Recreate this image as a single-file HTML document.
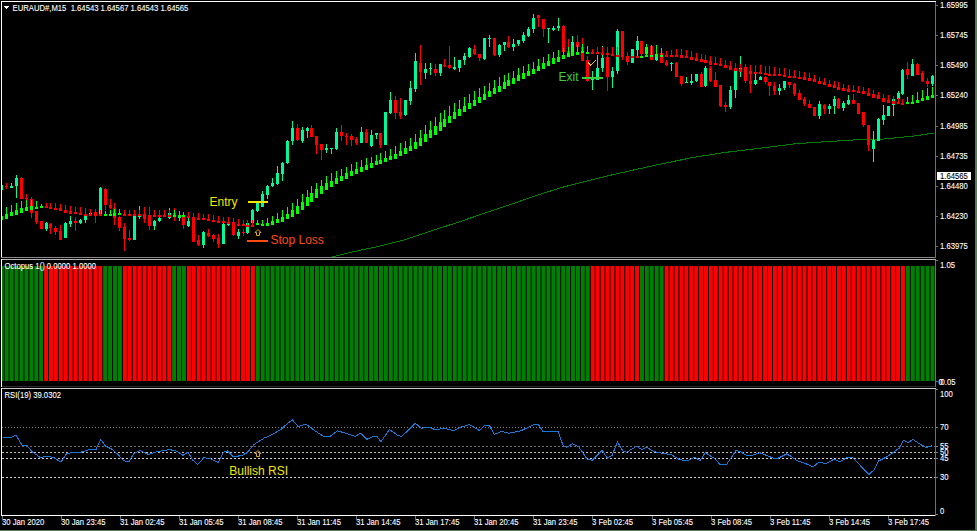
<!DOCTYPE html>
<html><head><meta charset="utf-8"><style>
html,body{margin:0;padding:0;background:#000;width:977px;height:531px;overflow:hidden;position:relative}
</style></head><body>
<svg width="977" height="531" viewBox="0 0 977 531" style="position:absolute;left:0;top:0" shape-rendering="crispEdges">
<rect x="0" y="0" width="977" height="531" fill="#000"/>
<defs><clipPath id="cm"><rect x="2" y="2" width="933" height="255"/></clipPath><clipPath id="cp2"><rect x="2" y="260" width="933" height="126"/></clipPath><clipPath id="cr"><rect x="2" y="389" width="933" height="126"/></clipPath></defs>
<g clip-path="url(#cm)"><polyline points="331.5,257.1 352.8,251.8 379.0,246.3 405.2,239.7 431.4,230.9 457.6,222.4 483.8,213.5 510.0,204.7 536.2,195.5 562.4,187.3 591.9,179.8 614.8,174.2 630.0,170.8 661.7,163.8 693.5,157.4 725.2,152.4 763.2,147.9 795.0,143.8 826.7,141.6 858.4,139.7 883.8,139.0 915.5,135.9 931.4,133.3 934.0,133.0" fill="none" stroke="#008000" stroke-width="1"/>
<rect x="1" y="183" width="1" height="9" fill="#00fa9a"/>
<rect x="0" y="185" width="3" height="5" fill="#00fa9a"/>
<rect x="6" y="183" width="1" height="6" fill="#ff0000"/>
<rect x="5" y="186" width="3" height="1" fill="#ff0000"/>
<rect x="11" y="183" width="1" height="5" fill="#00fa9a"/>
<rect x="10" y="186" width="3" height="2" fill="#00fa9a"/>
<rect x="16" y="175" width="1" height="23" fill="#00fa9a"/>
<rect x="15" y="178" width="3" height="8" fill="#00fa9a"/>
<rect x="21" y="177" width="1" height="22" fill="#ff0000"/>
<rect x="20" y="178" width="3" height="21" fill="#ff0000"/>
<rect x="26" y="194" width="1" height="8" fill="#ff0000"/>
<rect x="25" y="198" width="3" height="1" fill="#ff0000"/>
<rect x="31" y="197" width="1" height="21" fill="#ff0000"/>
<rect x="30" y="199" width="3" height="14" fill="#ff0000"/>
<rect x="36" y="211" width="1" height="13" fill="#ff0000"/>
<rect x="35" y="211" width="3" height="11" fill="#ff0000"/>
<rect x="41" y="221" width="1" height="8" fill="#ff0000"/>
<rect x="40" y="221" width="3" height="8" fill="#ff0000"/>
<rect x="46" y="222" width="1" height="9" fill="#00fa9a"/>
<rect x="45" y="223" width="3" height="6" fill="#00fa9a"/>
<rect x="50" y="223" width="1" height="11" fill="#ff0000"/>
<rect x="49" y="224" width="3" height="4" fill="#ff0000"/>
<rect x="55" y="226" width="1" height="9" fill="#ff0000"/>
<rect x="54" y="228" width="3" height="4" fill="#ff0000"/>
<rect x="60" y="225" width="1" height="15" fill="#ff0000"/>
<rect x="59" y="231" width="3" height="9" fill="#ff0000"/>
<rect x="65" y="222" width="1" height="16" fill="#00fa9a"/>
<rect x="64" y="223" width="3" height="15" fill="#00fa9a"/>
<rect x="70" y="216" width="1" height="11" fill="#00fa9a"/>
<rect x="69" y="221" width="3" height="3" fill="#00fa9a"/>
<rect x="75" y="217" width="1" height="14" fill="#ff0000"/>
<rect x="74" y="221" width="3" height="2" fill="#ff0000"/>
<rect x="80" y="219" width="1" height="5" fill="#00fa9a"/>
<rect x="79" y="220" width="3" height="3" fill="#00fa9a"/>
<rect x="85" y="214" width="1" height="9" fill="#00fa9a"/>
<rect x="84" y="216" width="3" height="4" fill="#00fa9a"/>
<rect x="90" y="212" width="1" height="4" fill="#00fa9a"/>
<rect x="89" y="213" width="3" height="2" fill="#00fa9a"/>
<rect x="95" y="209" width="1" height="14" fill="#ff0000"/>
<rect x="94" y="212" width="3" height="4" fill="#ff0000"/>
<rect x="100" y="187" width="1" height="28" fill="#00fa9a"/>
<rect x="99" y="188" width="3" height="27" fill="#00fa9a"/>
<rect x="105" y="188" width="1" height="22" fill="#ff0000"/>
<rect x="104" y="189" width="3" height="16" fill="#ff0000"/>
<rect x="110" y="199" width="1" height="10" fill="#ff0000"/>
<rect x="109" y="205" width="3" height="3" fill="#ff0000"/>
<rect x="114" y="203" width="1" height="22" fill="#ff0000"/>
<rect x="113" y="208" width="3" height="10" fill="#ff0000"/>
<rect x="119" y="216" width="1" height="15" fill="#ff0000"/>
<rect x="118" y="217" width="3" height="11" fill="#ff0000"/>
<rect x="124" y="223" width="1" height="28" fill="#ff0000"/>
<rect x="123" y="227" width="3" height="12" fill="#ff0000"/>
<rect x="129" y="230" width="1" height="11" fill="#ff0000"/>
<rect x="128" y="238" width="3" height="2" fill="#ff0000"/>
<rect x="134" y="214" width="1" height="26" fill="#00fa9a"/>
<rect x="133" y="215" width="3" height="25" fill="#00fa9a"/>
<rect x="139" y="206" width="1" height="13" fill="#00fa9a"/>
<rect x="138" y="214" width="3" height="3" fill="#00fa9a"/>
<rect x="144" y="207" width="1" height="16" fill="#ff0000"/>
<rect x="143" y="214" width="3" height="5" fill="#ff0000"/>
<rect x="149" y="210" width="1" height="20" fill="#ff0000"/>
<rect x="148" y="216" width="3" height="10" fill="#ff0000"/>
<rect x="154" y="220" width="1" height="10" fill="#00fa9a"/>
<rect x="153" y="221" width="3" height="5" fill="#00fa9a"/>
<rect x="159" y="215" width="1" height="7" fill="#00fa9a"/>
<rect x="158" y="218" width="3" height="3" fill="#00fa9a"/>
<rect x="164" y="210" width="1" height="7" fill="#ff0000"/>
<rect x="163" y="216" width="3" height="1" fill="#ff0000"/>
<rect x="169" y="208" width="1" height="11" fill="#00fa9a"/>
<rect x="168" y="213" width="3" height="5" fill="#00fa9a"/>
<rect x="174" y="208" width="1" height="13" fill="#ff0000"/>
<rect x="173" y="213" width="3" height="3" fill="#ff0000"/>
<rect x="179" y="213" width="1" height="8" fill="#00fa9a"/>
<rect x="178" y="215" width="3" height="3" fill="#00fa9a"/>
<rect x="183" y="215" width="1" height="14" fill="#ff0000"/>
<rect x="182" y="216" width="3" height="9" fill="#ff0000"/>
<rect x="188" y="218" width="1" height="9" fill="#00fa9a"/>
<rect x="187" y="221" width="3" height="5" fill="#00fa9a"/>
<rect x="193" y="214" width="1" height="28" fill="#ff0000"/>
<rect x="192" y="217" width="3" height="25" fill="#ff0000"/>
<rect x="198" y="235" width="1" height="11" fill="#ff0000"/>
<rect x="197" y="240" width="3" height="5" fill="#ff0000"/>
<rect x="203" y="231" width="1" height="17" fill="#00fa9a"/>
<rect x="202" y="232" width="3" height="13" fill="#00fa9a"/>
<rect x="208" y="229" width="1" height="8" fill="#ff0000"/>
<rect x="207" y="233" width="3" height="3" fill="#ff0000"/>
<rect x="213" y="234" width="1" height="8" fill="#ff0000"/>
<rect x="212" y="235" width="3" height="4" fill="#ff0000"/>
<rect x="218" y="234" width="1" height="14" fill="#ff0000"/>
<rect x="217" y="238" width="3" height="6" fill="#ff0000"/>
<rect x="223" y="223" width="1" height="21" fill="#00fa9a"/>
<rect x="222" y="224" width="3" height="20" fill="#00fa9a"/>
<rect x="228" y="218" width="1" height="8" fill="#00fa9a"/>
<rect x="227" y="222" width="3" height="3" fill="#00fa9a"/>
<rect x="233" y="218" width="1" height="18" fill="#ff0000"/>
<rect x="232" y="222" width="3" height="13" fill="#ff0000"/>
<rect x="238" y="229" width="1" height="10" fill="#00fa9a"/>
<rect x="237" y="232" width="3" height="4" fill="#00fa9a"/>
<rect x="243" y="229" width="1" height="7" fill="#ff0000"/>
<rect x="242" y="232" width="3" height="1" fill="#ff0000"/>
<rect x="247" y="222" width="1" height="12" fill="#00fa9a"/>
<rect x="246" y="223" width="3" height="10" fill="#00fa9a"/>
<rect x="252" y="209" width="1" height="14" fill="#00fa9a"/>
<rect x="251" y="210" width="3" height="13" fill="#00fa9a"/>
<rect x="257" y="202" width="1" height="10" fill="#00fa9a"/>
<rect x="256" y="203" width="3" height="8" fill="#00fa9a"/>
<rect x="262" y="191" width="1" height="16" fill="#00fa9a"/>
<rect x="261" y="194" width="3" height="13" fill="#00fa9a"/>
<rect x="267" y="185" width="1" height="14" fill="#00fa9a"/>
<rect x="266" y="186" width="3" height="9" fill="#00fa9a"/>
<rect x="272" y="178" width="1" height="9" fill="#00fa9a"/>
<rect x="271" y="183" width="3" height="3" fill="#00fa9a"/>
<rect x="277" y="166" width="1" height="19" fill="#00fa9a"/>
<rect x="276" y="173" width="3" height="11" fill="#00fa9a"/>
<rect x="282" y="162" width="1" height="19" fill="#00fa9a"/>
<rect x="281" y="163" width="3" height="11" fill="#00fa9a"/>
<rect x="287" y="140" width="1" height="24" fill="#00fa9a"/>
<rect x="286" y="141" width="3" height="22" fill="#00fa9a"/>
<rect x="292" y="121" width="1" height="24" fill="#00fa9a"/>
<rect x="291" y="128" width="3" height="13" fill="#00fa9a"/>
<rect x="297" y="124" width="1" height="17" fill="#ff0000"/>
<rect x="296" y="128" width="3" height="12" fill="#ff0000"/>
<rect x="302" y="127" width="1" height="16" fill="#00fa9a"/>
<rect x="301" y="130" width="3" height="11" fill="#00fa9a"/>
<rect x="307" y="127" width="1" height="11" fill="#00fa9a"/>
<rect x="306" y="128" width="3" height="3" fill="#00fa9a"/>
<rect x="311" y="125" width="1" height="12" fill="#ff0000"/>
<rect x="310" y="128" width="3" height="9" fill="#ff0000"/>
<rect x="316" y="136" width="1" height="18" fill="#ff0000"/>
<rect x="315" y="136" width="3" height="9" fill="#ff0000"/>
<rect x="321" y="144" width="1" height="16" fill="#ff0000"/>
<rect x="320" y="144" width="3" height="6" fill="#ff0000"/>
<rect x="326" y="144" width="1" height="9" fill="#00fa9a"/>
<rect x="325" y="148" width="3" height="2" fill="#00fa9a"/>
<rect x="331" y="148" width="1" height="6" fill="#00fa9a"/>
<rect x="330" y="148" width="3" height="1" fill="#00fa9a"/>
<rect x="336" y="128" width="1" height="22" fill="#00fa9a"/>
<rect x="335" y="132" width="3" height="17" fill="#00fa9a"/>
<rect x="341" y="125" width="1" height="16" fill="#ff0000"/>
<rect x="340" y="132" width="3" height="4" fill="#ff0000"/>
<rect x="346" y="133" width="1" height="12" fill="#ff0000"/>
<rect x="345" y="136" width="3" height="1" fill="#ff0000"/>
<rect x="351" y="134" width="1" height="12" fill="#ff0000"/>
<rect x="350" y="136" width="3" height="4" fill="#ff0000"/>
<rect x="356" y="137" width="1" height="8" fill="#ff0000"/>
<rect x="355" y="139" width="3" height="4" fill="#ff0000"/>
<rect x="361" y="127" width="1" height="16" fill="#00fa9a"/>
<rect x="360" y="132" width="3" height="11" fill="#00fa9a"/>
<rect x="366" y="129" width="1" height="14" fill="#ff0000"/>
<rect x="365" y="132" width="3" height="11" fill="#ff0000"/>
<rect x="371" y="130" width="1" height="17" fill="#00fa9a"/>
<rect x="370" y="135" width="3" height="11" fill="#00fa9a"/>
<rect x="376" y="133" width="1" height="6" fill="#00fa9a"/>
<rect x="375" y="133" width="3" height="2" fill="#00fa9a"/>
<rect x="380" y="133" width="1" height="15" fill="#ff0000"/>
<rect x="379" y="133" width="3" height="12" fill="#ff0000"/>
<rect x="385" y="112" width="1" height="33" fill="#00fa9a"/>
<rect x="384" y="112" width="3" height="33" fill="#00fa9a"/>
<rect x="390" y="92" width="1" height="22" fill="#00fa9a"/>
<rect x="389" y="100" width="3" height="13" fill="#00fa9a"/>
<rect x="395" y="96" width="1" height="23" fill="#ff0000"/>
<rect x="394" y="100" width="3" height="13" fill="#ff0000"/>
<rect x="400" y="98" width="1" height="21" fill="#ff0000"/>
<rect x="399" y="112" width="3" height="4" fill="#ff0000"/>
<rect x="405" y="100" width="1" height="16" fill="#00fa9a"/>
<rect x="404" y="100" width="3" height="15" fill="#00fa9a"/>
<rect x="410" y="81" width="1" height="24" fill="#00fa9a"/>
<rect x="409" y="88" width="3" height="13" fill="#00fa9a"/>
<rect x="415" y="53" width="1" height="39" fill="#00fa9a"/>
<rect x="414" y="61" width="3" height="28" fill="#00fa9a"/>
<rect x="420" y="45" width="1" height="40" fill="#ff0000"/>
<rect x="419" y="63" width="3" height="9" fill="#ff0000"/>
<rect x="425" y="63" width="1" height="16" fill="#00fa9a"/>
<rect x="424" y="69" width="3" height="4" fill="#00fa9a"/>
<rect x="430" y="63" width="1" height="12" fill="#00fa9a"/>
<rect x="429" y="68" width="3" height="1" fill="#00fa9a"/>
<rect x="435" y="64" width="1" height="12" fill="#ff0000"/>
<rect x="434" y="69" width="3" height="4" fill="#ff0000"/>
<rect x="440" y="64" width="1" height="12" fill="#00fa9a"/>
<rect x="439" y="64" width="3" height="9" fill="#00fa9a"/>
<rect x="444" y="59" width="1" height="8" fill="#ff0000"/>
<rect x="443" y="65" width="3" height="1" fill="#ff0000"/>
<rect x="449" y="46" width="1" height="23" fill="#ff0000"/>
<rect x="448" y="65" width="3" height="3" fill="#ff0000"/>
<rect x="454" y="57" width="1" height="13" fill="#00fa9a"/>
<rect x="453" y="67" width="3" height="2" fill="#00fa9a"/>
<rect x="459" y="60" width="1" height="12" fill="#00fa9a"/>
<rect x="458" y="60" width="3" height="8" fill="#00fa9a"/>
<rect x="464" y="53" width="1" height="12" fill="#00fa9a"/>
<rect x="463" y="56" width="3" height="4" fill="#00fa9a"/>
<rect x="469" y="47" width="1" height="11" fill="#00fa9a"/>
<rect x="468" y="48" width="3" height="9" fill="#00fa9a"/>
<rect x="474" y="45" width="1" height="10" fill="#ff0000"/>
<rect x="473" y="49" width="3" height="5" fill="#ff0000"/>
<rect x="479" y="54" width="1" height="7" fill="#ff0000"/>
<rect x="478" y="54" width="3" height="4" fill="#ff0000"/>
<rect x="484" y="38" width="1" height="22" fill="#00fa9a"/>
<rect x="483" y="38" width="3" height="21" fill="#00fa9a"/>
<rect x="489" y="35" width="1" height="12" fill="#00fa9a"/>
<rect x="488" y="38" width="3" height="1" fill="#00fa9a"/>
<rect x="494" y="38" width="1" height="18" fill="#ff0000"/>
<rect x="493" y="38" width="3" height="17" fill="#ff0000"/>
<rect x="499" y="44" width="1" height="13" fill="#00fa9a"/>
<rect x="498" y="45" width="3" height="10" fill="#00fa9a"/>
<rect x="504" y="42" width="1" height="9" fill="#00fa9a"/>
<rect x="503" y="42" width="3" height="3" fill="#00fa9a"/>
<rect x="508" y="36" width="1" height="12" fill="#ff0000"/>
<rect x="507" y="42" width="3" height="5" fill="#ff0000"/>
<rect x="513" y="39" width="1" height="12" fill="#00fa9a"/>
<rect x="512" y="44" width="3" height="3" fill="#00fa9a"/>
<rect x="518" y="40" width="1" height="6" fill="#00fa9a"/>
<rect x="517" y="40" width="3" height="4" fill="#00fa9a"/>
<rect x="523" y="32" width="1" height="11" fill="#00fa9a"/>
<rect x="522" y="35" width="3" height="6" fill="#00fa9a"/>
<rect x="528" y="27" width="1" height="10" fill="#00fa9a"/>
<rect x="527" y="29" width="3" height="7" fill="#00fa9a"/>
<rect x="533" y="14" width="1" height="19" fill="#00fa9a"/>
<rect x="532" y="18" width="3" height="11" fill="#00fa9a"/>
<rect x="538" y="15" width="1" height="12" fill="#ff0000"/>
<rect x="537" y="15" width="3" height="3" fill="#ff0000"/>
<rect x="543" y="19" width="1" height="18" fill="#ff0000"/>
<rect x="542" y="19" width="3" height="10" fill="#ff0000"/>
<rect x="548" y="28" width="1" height="15" fill="#00fa9a"/>
<rect x="547" y="28" width="3" height="1" fill="#00fa9a"/>
<rect x="553" y="26" width="1" height="5" fill="#00fa9a"/>
<rect x="552" y="28" width="3" height="2" fill="#00fa9a"/>
<rect x="558" y="18" width="1" height="13" fill="#00fa9a"/>
<rect x="557" y="26" width="3" height="2" fill="#00fa9a"/>
<rect x="563" y="25" width="1" height="27" fill="#ff0000"/>
<rect x="562" y="26" width="3" height="26" fill="#ff0000"/>
<rect x="568" y="39" width="1" height="15" fill="#ff0000"/>
<rect x="567" y="51" width="3" height="2" fill="#ff0000"/>
<rect x="572" y="36" width="1" height="16" fill="#00fa9a"/>
<rect x="571" y="42" width="3" height="10" fill="#00fa9a"/>
<rect x="577" y="35" width="1" height="13" fill="#ff0000"/>
<rect x="576" y="42" width="3" height="5" fill="#ff0000"/>
<rect x="582" y="38" width="1" height="23" fill="#ff0000"/>
<rect x="581" y="47" width="3" height="14" fill="#ff0000"/>
<rect x="587" y="56" width="1" height="26" fill="#ff0000"/>
<rect x="586" y="60" width="3" height="21" fill="#ff0000"/>
<rect x="592" y="71" width="1" height="19" fill="#00fa9a"/>
<rect x="591" y="78" width="3" height="2" fill="#00fa9a"/>
<rect x="597" y="55" width="1" height="25" fill="#00fa9a"/>
<rect x="596" y="68" width="3" height="12" fill="#00fa9a"/>
<rect x="602" y="46" width="1" height="26" fill="#00fa9a"/>
<rect x="601" y="58" width="3" height="10" fill="#00fa9a"/>
<rect x="607" y="47" width="1" height="44" fill="#ff0000"/>
<rect x="606" y="57" width="3" height="20" fill="#ff0000"/>
<rect x="612" y="67" width="1" height="21" fill="#00fa9a"/>
<rect x="611" y="71" width="3" height="6" fill="#00fa9a"/>
<rect x="617" y="29" width="1" height="45" fill="#00fa9a"/>
<rect x="616" y="31" width="3" height="40" fill="#00fa9a"/>
<rect x="622" y="31" width="1" height="29" fill="#ff0000"/>
<rect x="621" y="31" width="3" height="26" fill="#ff0000"/>
<rect x="627" y="52" width="1" height="13" fill="#ff0000"/>
<rect x="626" y="57" width="3" height="5" fill="#ff0000"/>
<rect x="632" y="49" width="1" height="14" fill="#00fa9a"/>
<rect x="631" y="49" width="3" height="14" fill="#00fa9a"/>
<rect x="637" y="36" width="1" height="21" fill="#00fa9a"/>
<rect x="636" y="41" width="3" height="9" fill="#00fa9a"/>
<rect x="641" y="41" width="1" height="16" fill="#ff0000"/>
<rect x="640" y="41" width="3" height="13" fill="#ff0000"/>
<rect x="646" y="44" width="1" height="10" fill="#00fa9a"/>
<rect x="645" y="47" width="3" height="7" fill="#00fa9a"/>
<rect x="651" y="45" width="1" height="15" fill="#ff0000"/>
<rect x="650" y="46" width="3" height="14" fill="#ff0000"/>
<rect x="656" y="45" width="1" height="16" fill="#00fa9a"/>
<rect x="655" y="54" width="3" height="6" fill="#00fa9a"/>
<rect x="661" y="48" width="1" height="15" fill="#ff0000"/>
<rect x="660" y="53" width="3" height="10" fill="#ff0000"/>
<rect x="666" y="60" width="1" height="6" fill="#ff0000"/>
<rect x="665" y="62" width="3" height="3" fill="#ff0000"/>
<rect x="671" y="62" width="1" height="9" fill="#00fa9a"/>
<rect x="670" y="63" width="3" height="1" fill="#00fa9a"/>
<rect x="676" y="62" width="1" height="15" fill="#ff0000"/>
<rect x="675" y="63" width="3" height="14" fill="#ff0000"/>
<rect x="681" y="76" width="1" height="10" fill="#ff0000"/>
<rect x="680" y="76" width="3" height="8" fill="#ff0000"/>
<rect x="686" y="77" width="1" height="6" fill="#00fa9a"/>
<rect x="685" y="82" width="3" height="1" fill="#00fa9a"/>
<rect x="691" y="74" width="1" height="11" fill="#00fa9a"/>
<rect x="690" y="81" width="3" height="2" fill="#00fa9a"/>
<rect x="696" y="74" width="1" height="8" fill="#00fa9a"/>
<rect x="695" y="74" width="3" height="7" fill="#00fa9a"/>
<rect x="701" y="72" width="1" height="15" fill="#ff0000"/>
<rect x="700" y="74" width="3" height="13" fill="#ff0000"/>
<rect x="705" y="66" width="1" height="21" fill="#00fa9a"/>
<rect x="704" y="68" width="3" height="18" fill="#00fa9a"/>
<rect x="710" y="66" width="1" height="16" fill="#ff0000"/>
<rect x="709" y="68" width="3" height="13" fill="#ff0000"/>
<rect x="715" y="72" width="1" height="15" fill="#ff0000"/>
<rect x="714" y="80" width="3" height="7" fill="#ff0000"/>
<rect x="720" y="85" width="1" height="22" fill="#ff0000"/>
<rect x="719" y="85" width="3" height="21" fill="#ff0000"/>
<rect x="725" y="102" width="1" height="10" fill="#ff0000"/>
<rect x="724" y="105" width="3" height="2" fill="#ff0000"/>
<rect x="730" y="86" width="1" height="23" fill="#00fa9a"/>
<rect x="729" y="90" width="3" height="17" fill="#00fa9a"/>
<rect x="735" y="70" width="1" height="28" fill="#00fa9a"/>
<rect x="734" y="71" width="3" height="19" fill="#00fa9a"/>
<rect x="740" y="56" width="1" height="21" fill="#00fa9a"/>
<rect x="739" y="68" width="3" height="4" fill="#00fa9a"/>
<rect x="745" y="64" width="1" height="19" fill="#ff0000"/>
<rect x="744" y="67" width="3" height="14" fill="#ff0000"/>
<rect x="750" y="65" width="1" height="28" fill="#ff0000"/>
<rect x="749" y="81" width="3" height="3" fill="#ff0000"/>
<rect x="755" y="73" width="1" height="12" fill="#00fa9a"/>
<rect x="754" y="80" width="3" height="4" fill="#00fa9a"/>
<rect x="760" y="76" width="1" height="4" fill="#00fa9a"/>
<rect x="759" y="77" width="3" height="3" fill="#00fa9a"/>
<rect x="765" y="76" width="1" height="8" fill="#ff0000"/>
<rect x="764" y="77" width="3" height="5" fill="#ff0000"/>
<rect x="769" y="82" width="1" height="14" fill="#ff0000"/>
<rect x="768" y="82" width="3" height="4" fill="#ff0000"/>
<rect x="774" y="82" width="1" height="13" fill="#ff0000"/>
<rect x="773" y="86" width="3" height="5" fill="#ff0000"/>
<rect x="779" y="84" width="1" height="11" fill="#00fa9a"/>
<rect x="778" y="88" width="3" height="3" fill="#00fa9a"/>
<rect x="784" y="81" width="1" height="9" fill="#00fa9a"/>
<rect x="783" y="81" width="3" height="7" fill="#00fa9a"/>
<rect x="789" y="82" width="1" height="6" fill="#ff0000"/>
<rect x="788" y="82" width="3" height="3" fill="#ff0000"/>
<rect x="794" y="83" width="1" height="13" fill="#ff0000"/>
<rect x="793" y="84" width="3" height="10" fill="#ff0000"/>
<rect x="799" y="90" width="1" height="10" fill="#ff0000"/>
<rect x="798" y="93" width="3" height="7" fill="#ff0000"/>
<rect x="804" y="97" width="1" height="9" fill="#ff0000"/>
<rect x="803" y="99" width="3" height="5" fill="#ff0000"/>
<rect x="809" y="100" width="1" height="8" fill="#ff0000"/>
<rect x="808" y="104" width="3" height="4" fill="#ff0000"/>
<rect x="814" y="107" width="1" height="9" fill="#ff0000"/>
<rect x="813" y="107" width="3" height="9" fill="#ff0000"/>
<rect x="819" y="101" width="1" height="18" fill="#00fa9a"/>
<rect x="818" y="104" width="3" height="12" fill="#00fa9a"/>
<rect x="824" y="104" width="1" height="10" fill="#ff0000"/>
<rect x="823" y="105" width="3" height="4" fill="#ff0000"/>
<rect x="829" y="104" width="1" height="10" fill="#00fa9a"/>
<rect x="828" y="106" width="3" height="3" fill="#00fa9a"/>
<rect x="834" y="96" width="1" height="18" fill="#00fa9a"/>
<rect x="833" y="99" width="3" height="7" fill="#00fa9a"/>
<rect x="838" y="98" width="1" height="11" fill="#ff0000"/>
<rect x="837" y="99" width="3" height="9" fill="#ff0000"/>
<rect x="843" y="101" width="1" height="10" fill="#00fa9a"/>
<rect x="842" y="103" width="3" height="5" fill="#00fa9a"/>
<rect x="848" y="95" width="1" height="10" fill="#00fa9a"/>
<rect x="847" y="100" width="3" height="4" fill="#00fa9a"/>
<rect x="853" y="94" width="1" height="10" fill="#ff0000"/>
<rect x="852" y="100" width="3" height="4" fill="#ff0000"/>
<rect x="858" y="103" width="1" height="11" fill="#ff0000"/>
<rect x="857" y="103" width="3" height="11" fill="#ff0000"/>
<rect x="863" y="112" width="1" height="15" fill="#ff0000"/>
<rect x="862" y="112" width="3" height="13" fill="#ff0000"/>
<rect x="868" y="125" width="1" height="26" fill="#ff0000"/>
<rect x="867" y="125" width="3" height="20" fill="#ff0000"/>
<rect x="873" y="131" width="1" height="31" fill="#00fa9a"/>
<rect x="872" y="140" width="3" height="9" fill="#00fa9a"/>
<rect x="878" y="118" width="1" height="23" fill="#00fa9a"/>
<rect x="877" y="119" width="3" height="22" fill="#00fa9a"/>
<rect x="883" y="105" width="1" height="20" fill="#00fa9a"/>
<rect x="882" y="115" width="3" height="5" fill="#00fa9a"/>
<rect x="888" y="106" width="1" height="10" fill="#00fa9a"/>
<rect x="887" y="106" width="3" height="10" fill="#00fa9a"/>
<rect x="893" y="99" width="1" height="17" fill="#00fa9a"/>
<rect x="892" y="99" width="3" height="6" fill="#00fa9a"/>
<rect x="898" y="91" width="1" height="9" fill="#00fa9a"/>
<rect x="897" y="93" width="3" height="6" fill="#00fa9a"/>
<rect x="902" y="69" width="1" height="26" fill="#00fa9a"/>
<rect x="901" y="70" width="3" height="24" fill="#00fa9a"/>
<rect x="907" y="62" width="1" height="17" fill="#ff0000"/>
<rect x="906" y="69" width="3" height="6" fill="#ff0000"/>
<rect x="912" y="59" width="1" height="17" fill="#00fa9a"/>
<rect x="911" y="64" width="3" height="12" fill="#00fa9a"/>
<rect x="917" y="63" width="1" height="12" fill="#ff0000"/>
<rect x="916" y="64" width="3" height="11" fill="#ff0000"/>
<rect x="922" y="71" width="1" height="11" fill="#ff0000"/>
<rect x="921" y="73" width="3" height="8" fill="#ff0000"/>
<rect x="927" y="78" width="1" height="9" fill="#ff0000"/>
<rect x="926" y="81" width="3" height="3" fill="#ff0000"/>
<rect x="932" y="75" width="1" height="11" fill="#00fa9a"/>
<rect x="931" y="76" width="3" height="8" fill="#00fa9a"/>
<rect x="1" y="210" width="1" height="6" fill="#00ff00"/>
<rect x="0" y="216" width="3" height="4" fill="#00ff00"/>
<rect x="6" y="207" width="1" height="7" fill="#00ff00"/>
<rect x="5" y="214" width="3" height="5" fill="#00ff00"/>
<rect x="11" y="205" width="1" height="7" fill="#00ff00"/>
<rect x="10" y="212" width="3" height="4" fill="#00ff00"/>
<rect x="16" y="203" width="1" height="7" fill="#00ff00"/>
<rect x="15" y="210" width="3" height="5" fill="#00ff00"/>
<rect x="21" y="201" width="1" height="7" fill="#00ff00"/>
<rect x="20" y="208" width="3" height="5" fill="#00ff00"/>
<rect x="26" y="200" width="1" height="7" fill="#00ff00"/>
<rect x="25" y="207" width="3" height="4" fill="#00ff00"/>
<rect x="31" y="200" width="1" height="6" fill="#00ff00"/>
<rect x="30" y="206" width="3" height="4" fill="#00ff00"/>
<rect x="36" y="201" width="1" height="6" fill="#00ff00"/>
<rect x="35" y="207" width="3" height="2" fill="#00ff00"/>
<rect x="41" y="204" width="1" height="2" fill="#00ff00"/>
<rect x="40" y="206" width="3" height="2" fill="#00ff00"/>
<rect x="46" y="203" width="1" height="3" fill="#ff0000"/>
<rect x="45" y="206" width="3" height="2" fill="#ff0000"/>
<rect x="50" y="203" width="1" height="4" fill="#ff0000"/>
<rect x="49" y="207" width="3" height="2" fill="#ff0000"/>
<rect x="55" y="203" width="1" height="5" fill="#ff0000"/>
<rect x="54" y="208" width="3" height="2" fill="#ff0000"/>
<rect x="60" y="204" width="1" height="4" fill="#ff0000"/>
<rect x="59" y="208" width="3" height="3" fill="#ff0000"/>
<rect x="65" y="205" width="1" height="5" fill="#ff0000"/>
<rect x="64" y="210" width="3" height="3" fill="#ff0000"/>
<rect x="70" y="206" width="1" height="5" fill="#ff0000"/>
<rect x="69" y="211" width="3" height="3" fill="#ff0000"/>
<rect x="75" y="207" width="1" height="5" fill="#ff0000"/>
<rect x="74" y="212" width="3" height="2" fill="#ff0000"/>
<rect x="80" y="207" width="1" height="6" fill="#ff0000"/>
<rect x="79" y="213" width="3" height="2" fill="#ff0000"/>
<rect x="85" y="208" width="1" height="6" fill="#ff0000"/>
<rect x="84" y="214" width="3" height="2" fill="#ff0000"/>
<rect x="90" y="209" width="1" height="5" fill="#ff0000"/>
<rect x="89" y="214" width="3" height="2" fill="#ff0000"/>
<rect x="95" y="209" width="1" height="5" fill="#ff0000"/>
<rect x="94" y="214" width="3" height="2" fill="#ff0000"/>
<rect x="100" y="210" width="1" height="4" fill="#ff0000"/>
<rect x="99" y="214" width="3" height="2" fill="#ff0000"/>
<rect x="105" y="211" width="1" height="3" fill="#00ff00"/>
<rect x="104" y="214" width="3" height="2" fill="#00ff00"/>
<rect x="110" y="210" width="1" height="4" fill="#00ff00"/>
<rect x="109" y="214" width="3" height="2" fill="#00ff00"/>
<rect x="114" y="209" width="1" height="4" fill="#00ff00"/>
<rect x="113" y="213" width="3" height="3" fill="#00ff00"/>
<rect x="119" y="209" width="1" height="4" fill="#00ff00"/>
<rect x="118" y="213" width="3" height="2" fill="#00ff00"/>
<rect x="124" y="210" width="1" height="4" fill="#ff0000"/>
<rect x="123" y="214" width="3" height="2" fill="#ff0000"/>
<rect x="129" y="210" width="1" height="4" fill="#ff0000"/>
<rect x="128" y="214" width="3" height="2" fill="#ff0000"/>
<rect x="134" y="210" width="1" height="4" fill="#ff0000"/>
<rect x="133" y="214" width="3" height="2" fill="#ff0000"/>
<rect x="139" y="210" width="1" height="4" fill="#ff0000"/>
<rect x="138" y="214" width="3" height="2" fill="#ff0000"/>
<rect x="144" y="207" width="1" height="8" fill="#ff0000"/>
<rect x="143" y="215" width="3" height="2" fill="#ff0000"/>
<rect x="149" y="207" width="1" height="8" fill="#ff0000"/>
<rect x="148" y="215" width="3" height="2" fill="#ff0000"/>
<rect x="154" y="210" width="1" height="5" fill="#ff0000"/>
<rect x="153" y="215" width="3" height="2" fill="#ff0000"/>
<rect x="159" y="210" width="1" height="5" fill="#ff0000"/>
<rect x="158" y="215" width="3" height="2" fill="#ff0000"/>
<rect x="164" y="210" width="1" height="5" fill="#ff0000"/>
<rect x="163" y="215" width="3" height="2" fill="#ff0000"/>
<rect x="169" y="210" width="1" height="5" fill="#ff0000"/>
<rect x="168" y="215" width="3" height="2" fill="#ff0000"/>
<rect x="174" y="210" width="1" height="5" fill="#00ff00"/>
<rect x="173" y="215" width="3" height="2" fill="#00ff00"/>
<rect x="179" y="211" width="1" height="4" fill="#00ff00"/>
<rect x="178" y="215" width="3" height="2" fill="#00ff00"/>
<rect x="183" y="212" width="1" height="3" fill="#00ff00"/>
<rect x="182" y="215" width="3" height="2" fill="#00ff00"/>
<rect x="188" y="212" width="1" height="4" fill="#ff0000"/>
<rect x="187" y="216" width="3" height="2" fill="#ff0000"/>
<rect x="193" y="213" width="1" height="4" fill="#ff0000"/>
<rect x="192" y="217" width="3" height="2" fill="#ff0000"/>
<rect x="198" y="213" width="1" height="5" fill="#ff0000"/>
<rect x="197" y="218" width="3" height="2" fill="#ff0000"/>
<rect x="203" y="214" width="1" height="4" fill="#ff0000"/>
<rect x="202" y="218" width="3" height="2" fill="#ff0000"/>
<rect x="208" y="214" width="1" height="5" fill="#ff0000"/>
<rect x="207" y="219" width="3" height="2" fill="#ff0000"/>
<rect x="213" y="215" width="1" height="5" fill="#ff0000"/>
<rect x="212" y="220" width="3" height="2" fill="#ff0000"/>
<rect x="218" y="216" width="1" height="5" fill="#ff0000"/>
<rect x="217" y="221" width="3" height="2" fill="#ff0000"/>
<rect x="223" y="217" width="1" height="4" fill="#ff0000"/>
<rect x="222" y="221" width="3" height="2" fill="#ff0000"/>
<rect x="228" y="217" width="1" height="5" fill="#ff0000"/>
<rect x="227" y="222" width="3" height="2" fill="#ff0000"/>
<rect x="233" y="218" width="1" height="5" fill="#ff0000"/>
<rect x="232" y="223" width="3" height="2" fill="#ff0000"/>
<rect x="238" y="219" width="1" height="5" fill="#ff0000"/>
<rect x="237" y="224" width="3" height="2" fill="#ff0000"/>
<rect x="243" y="220" width="1" height="4" fill="#ff0000"/>
<rect x="242" y="224" width="3" height="2" fill="#ff0000"/>
<rect x="247" y="220" width="1" height="5" fill="#ff0000"/>
<rect x="246" y="225" width="3" height="2" fill="#ff0000"/>
<rect x="252" y="220" width="1" height="5" fill="#ff0000"/>
<rect x="251" y="225" width="3" height="2" fill="#ff0000"/>
<rect x="257" y="220" width="1" height="3" fill="#00ff00"/>
<rect x="256" y="223" width="3" height="2" fill="#00ff00"/>
<rect x="262" y="220" width="1" height="4" fill="#00ff00"/>
<rect x="261" y="224" width="3" height="2" fill="#00ff00"/>
<rect x="267" y="218" width="1" height="5" fill="#00ff00"/>
<rect x="266" y="223" width="3" height="3" fill="#00ff00"/>
<rect x="272" y="216" width="1" height="5" fill="#00ff00"/>
<rect x="271" y="221" width="3" height="4" fill="#00ff00"/>
<rect x="277" y="213" width="1" height="6" fill="#00ff00"/>
<rect x="276" y="219" width="3" height="4" fill="#00ff00"/>
<rect x="282" y="210" width="1" height="7" fill="#00ff00"/>
<rect x="281" y="217" width="3" height="5" fill="#00ff00"/>
<rect x="287" y="207" width="1" height="7" fill="#00ff00"/>
<rect x="286" y="214" width="3" height="5" fill="#00ff00"/>
<rect x="292" y="203" width="1" height="7" fill="#00ff00"/>
<rect x="291" y="210" width="3" height="7" fill="#00ff00"/>
<rect x="297" y="199" width="1" height="7" fill="#00ff00"/>
<rect x="296" y="206" width="3" height="8" fill="#00ff00"/>
<rect x="302" y="194" width="1" height="8" fill="#00ff00"/>
<rect x="301" y="202" width="3" height="8" fill="#00ff00"/>
<rect x="307" y="190" width="1" height="7" fill="#00ff00"/>
<rect x="306" y="197" width="3" height="9" fill="#00ff00"/>
<rect x="311" y="186" width="1" height="7" fill="#00ff00"/>
<rect x="310" y="193" width="3" height="9" fill="#00ff00"/>
<rect x="316" y="183" width="1" height="6" fill="#00ff00"/>
<rect x="315" y="189" width="3" height="9" fill="#00ff00"/>
<rect x="321" y="180" width="1" height="6" fill="#00ff00"/>
<rect x="320" y="186" width="3" height="8" fill="#00ff00"/>
<rect x="326" y="176" width="1" height="7" fill="#00ff00"/>
<rect x="325" y="183" width="3" height="7" fill="#00ff00"/>
<rect x="331" y="173" width="1" height="8" fill="#00ff00"/>
<rect x="330" y="181" width="3" height="6" fill="#00ff00"/>
<rect x="336" y="171" width="1" height="7" fill="#00ff00"/>
<rect x="335" y="178" width="3" height="6" fill="#00ff00"/>
<rect x="341" y="169" width="1" height="7" fill="#00ff00"/>
<rect x="340" y="176" width="3" height="5" fill="#00ff00"/>
<rect x="346" y="167" width="1" height="6" fill="#00ff00"/>
<rect x="345" y="173" width="3" height="6" fill="#00ff00"/>
<rect x="351" y="164" width="1" height="7" fill="#00ff00"/>
<rect x="350" y="171" width="3" height="5" fill="#00ff00"/>
<rect x="356" y="162" width="1" height="7" fill="#00ff00"/>
<rect x="355" y="169" width="3" height="5" fill="#00ff00"/>
<rect x="361" y="160" width="1" height="7" fill="#00ff00"/>
<rect x="360" y="167" width="3" height="5" fill="#00ff00"/>
<rect x="366" y="158" width="1" height="7" fill="#00ff00"/>
<rect x="365" y="165" width="3" height="5" fill="#00ff00"/>
<rect x="371" y="157" width="1" height="6" fill="#00ff00"/>
<rect x="370" y="163" width="3" height="5" fill="#00ff00"/>
<rect x="376" y="155" width="1" height="6" fill="#00ff00"/>
<rect x="375" y="161" width="3" height="4" fill="#00ff00"/>
<rect x="380" y="153" width="1" height="7" fill="#00ff00"/>
<rect x="379" y="160" width="3" height="4" fill="#00ff00"/>
<rect x="385" y="151" width="1" height="7" fill="#00ff00"/>
<rect x="384" y="158" width="3" height="4" fill="#00ff00"/>
<rect x="390" y="149" width="1" height="7" fill="#00ff00"/>
<rect x="389" y="156" width="3" height="4" fill="#00ff00"/>
<rect x="395" y="146" width="1" height="8" fill="#00ff00"/>
<rect x="394" y="154" width="3" height="5" fill="#00ff00"/>
<rect x="400" y="143" width="1" height="8" fill="#00ff00"/>
<rect x="399" y="151" width="3" height="5" fill="#00ff00"/>
<rect x="405" y="141" width="1" height="7" fill="#00ff00"/>
<rect x="404" y="148" width="3" height="6" fill="#00ff00"/>
<rect x="410" y="138" width="1" height="8" fill="#00ff00"/>
<rect x="409" y="146" width="3" height="5" fill="#00ff00"/>
<rect x="415" y="134" width="1" height="8" fill="#00ff00"/>
<rect x="414" y="142" width="3" height="7" fill="#00ff00"/>
<rect x="420" y="130" width="1" height="8" fill="#00ff00"/>
<rect x="419" y="138" width="3" height="8" fill="#00ff00"/>
<rect x="425" y="125" width="1" height="9" fill="#00ff00"/>
<rect x="424" y="134" width="3" height="8" fill="#00ff00"/>
<rect x="430" y="121" width="1" height="9" fill="#00ff00"/>
<rect x="429" y="130" width="3" height="8" fill="#00ff00"/>
<rect x="435" y="117" width="1" height="9" fill="#00ff00"/>
<rect x="434" y="126" width="3" height="9" fill="#00ff00"/>
<rect x="440" y="113" width="1" height="9" fill="#00ff00"/>
<rect x="439" y="122" width="3" height="9" fill="#00ff00"/>
<rect x="444" y="110" width="1" height="9" fill="#00ff00"/>
<rect x="443" y="119" width="3" height="8" fill="#00ff00"/>
<rect x="449" y="106" width="1" height="10" fill="#00ff00"/>
<rect x="448" y="116" width="3" height="7" fill="#00ff00"/>
<rect x="454" y="103" width="1" height="9" fill="#00ff00"/>
<rect x="453" y="112" width="3" height="7" fill="#00ff00"/>
<rect x="459" y="100" width="1" height="9" fill="#00ff00"/>
<rect x="458" y="109" width="3" height="7" fill="#00ff00"/>
<rect x="464" y="97" width="1" height="9" fill="#00ff00"/>
<rect x="463" y="106" width="3" height="6" fill="#00ff00"/>
<rect x="469" y="94" width="1" height="9" fill="#00ff00"/>
<rect x="468" y="103" width="3" height="6" fill="#00ff00"/>
<rect x="474" y="91" width="1" height="9" fill="#00ff00"/>
<rect x="473" y="100" width="3" height="6" fill="#00ff00"/>
<rect x="479" y="88" width="1" height="9" fill="#00ff00"/>
<rect x="478" y="97" width="3" height="6" fill="#00ff00"/>
<rect x="484" y="86" width="1" height="8" fill="#00ff00"/>
<rect x="483" y="94" width="3" height="6" fill="#00ff00"/>
<rect x="489" y="83" width="1" height="8" fill="#00ff00"/>
<rect x="488" y="91" width="3" height="6" fill="#00ff00"/>
<rect x="494" y="80" width="1" height="8" fill="#00ff00"/>
<rect x="493" y="88" width="3" height="6" fill="#00ff00"/>
<rect x="499" y="77" width="1" height="9" fill="#00ff00"/>
<rect x="498" y="86" width="3" height="6" fill="#00ff00"/>
<rect x="504" y="75" width="1" height="7" fill="#00ff00"/>
<rect x="503" y="82" width="3" height="7" fill="#00ff00"/>
<rect x="508" y="73" width="1" height="7" fill="#00ff00"/>
<rect x="507" y="80" width="3" height="6" fill="#00ff00"/>
<rect x="513" y="71" width="1" height="7" fill="#00ff00"/>
<rect x="512" y="78" width="3" height="6" fill="#00ff00"/>
<rect x="518" y="68" width="1" height="7" fill="#00ff00"/>
<rect x="517" y="75" width="3" height="6" fill="#00ff00"/>
<rect x="523" y="66" width="1" height="7" fill="#00ff00"/>
<rect x="522" y="73" width="3" height="6" fill="#00ff00"/>
<rect x="528" y="64" width="1" height="7" fill="#00ff00"/>
<rect x="527" y="71" width="3" height="5" fill="#00ff00"/>
<rect x="533" y="62" width="1" height="7" fill="#00ff00"/>
<rect x="532" y="69" width="3" height="5" fill="#00ff00"/>
<rect x="538" y="59" width="1" height="7" fill="#00ff00"/>
<rect x="537" y="66" width="3" height="5" fill="#00ff00"/>
<rect x="543" y="57" width="1" height="6" fill="#00ff00"/>
<rect x="542" y="63" width="3" height="6" fill="#00ff00"/>
<rect x="548" y="54" width="1" height="7" fill="#00ff00"/>
<rect x="547" y="61" width="3" height="5" fill="#00ff00"/>
<rect x="553" y="52" width="1" height="6" fill="#00ff00"/>
<rect x="552" y="58" width="3" height="6" fill="#00ff00"/>
<rect x="558" y="50" width="1" height="7" fill="#00ff00"/>
<rect x="557" y="57" width="3" height="5" fill="#00ff00"/>
<rect x="563" y="48" width="1" height="7" fill="#00ff00"/>
<rect x="562" y="55" width="3" height="4" fill="#00ff00"/>
<rect x="568" y="47" width="1" height="6" fill="#00ff00"/>
<rect x="567" y="53" width="3" height="4" fill="#00ff00"/>
<rect x="572" y="46" width="1" height="6" fill="#00ff00"/>
<rect x="571" y="52" width="3" height="4" fill="#00ff00"/>
<rect x="577" y="45" width="1" height="7" fill="#00ff00"/>
<rect x="576" y="52" width="3" height="3" fill="#00ff00"/>
<rect x="582" y="44" width="1" height="7" fill="#00ff00"/>
<rect x="581" y="51" width="3" height="2" fill="#00ff00"/>
<rect x="587" y="46" width="1" height="6" fill="#00ff00"/>
<rect x="586" y="52" width="3" height="2" fill="#00ff00"/>
<rect x="592" y="49" width="1" height="3" fill="#ff0000"/>
<rect x="591" y="52" width="3" height="2" fill="#ff0000"/>
<rect x="597" y="47" width="1" height="5" fill="#ff0000"/>
<rect x="596" y="52" width="3" height="2" fill="#ff0000"/>
<rect x="602" y="47" width="1" height="6" fill="#ff0000"/>
<rect x="601" y="53" width="3" height="2" fill="#ff0000"/>
<rect x="607" y="47" width="1" height="6" fill="#ff0000"/>
<rect x="606" y="53" width="3" height="2" fill="#ff0000"/>
<rect x="612" y="47" width="1" height="7" fill="#ff0000"/>
<rect x="611" y="54" width="3" height="2" fill="#ff0000"/>
<rect x="617" y="47" width="1" height="8" fill="#ff0000"/>
<rect x="616" y="55" width="3" height="2" fill="#ff0000"/>
<rect x="622" y="48" width="1" height="7" fill="#ff0000"/>
<rect x="621" y="55" width="3" height="2" fill="#ff0000"/>
<rect x="627" y="56" width="1" height="0" fill="#ff0000"/>
<rect x="626" y="56" width="3" height="2" fill="#ff0000"/>
<rect x="632" y="56" width="1" height="0" fill="#ff0000"/>
<rect x="631" y="56" width="3" height="2" fill="#ff0000"/>
<rect x="637" y="56" width="1" height="0" fill="#ff0000"/>
<rect x="636" y="56" width="3" height="2" fill="#ff0000"/>
<rect x="641" y="56" width="1" height="0" fill="#00ff00"/>
<rect x="640" y="56" width="3" height="2" fill="#00ff00"/>
<rect x="646" y="44" width="1" height="11" fill="#00ff00"/>
<rect x="645" y="55" width="3" height="2" fill="#00ff00"/>
<rect x="651" y="45" width="1" height="10" fill="#00ff00"/>
<rect x="650" y="55" width="3" height="2" fill="#00ff00"/>
<rect x="656" y="45" width="1" height="10" fill="#00ff00"/>
<rect x="655" y="55" width="3" height="2" fill="#00ff00"/>
<rect x="661" y="48" width="1" height="7" fill="#00ff00"/>
<rect x="660" y="55" width="3" height="2" fill="#00ff00"/>
<rect x="666" y="51" width="1" height="4" fill="#ff0000"/>
<rect x="665" y="55" width="3" height="2" fill="#ff0000"/>
<rect x="671" y="50" width="1" height="5" fill="#ff0000"/>
<rect x="670" y="55" width="3" height="2" fill="#ff0000"/>
<rect x="676" y="49" width="1" height="6" fill="#ff0000"/>
<rect x="675" y="55" width="3" height="2" fill="#ff0000"/>
<rect x="681" y="49" width="1" height="6" fill="#ff0000"/>
<rect x="680" y="55" width="3" height="3" fill="#ff0000"/>
<rect x="686" y="50" width="1" height="6" fill="#ff0000"/>
<rect x="685" y="56" width="3" height="2" fill="#ff0000"/>
<rect x="691" y="51" width="1" height="6" fill="#ff0000"/>
<rect x="690" y="57" width="3" height="3" fill="#ff0000"/>
<rect x="696" y="53" width="1" height="5" fill="#ff0000"/>
<rect x="695" y="58" width="3" height="3" fill="#ff0000"/>
<rect x="701" y="54" width="1" height="5" fill="#ff0000"/>
<rect x="700" y="59" width="3" height="3" fill="#ff0000"/>
<rect x="705" y="55" width="1" height="5" fill="#ff0000"/>
<rect x="704" y="60" width="3" height="3" fill="#ff0000"/>
<rect x="710" y="56" width="1" height="5" fill="#ff0000"/>
<rect x="709" y="61" width="3" height="4" fill="#ff0000"/>
<rect x="715" y="57" width="1" height="6" fill="#ff0000"/>
<rect x="714" y="63" width="3" height="2" fill="#ff0000"/>
<rect x="720" y="58" width="1" height="6" fill="#ff0000"/>
<rect x="719" y="64" width="3" height="2" fill="#ff0000"/>
<rect x="725" y="60" width="1" height="5" fill="#ff0000"/>
<rect x="724" y="65" width="3" height="3" fill="#ff0000"/>
<rect x="730" y="61" width="1" height="5" fill="#ff0000"/>
<rect x="729" y="66" width="3" height="4" fill="#ff0000"/>
<rect x="735" y="63" width="1" height="5" fill="#ff0000"/>
<rect x="734" y="68" width="3" height="3" fill="#ff0000"/>
<rect x="740" y="64" width="1" height="5" fill="#ff0000"/>
<rect x="739" y="69" width="3" height="3" fill="#ff0000"/>
<rect x="745" y="64" width="1" height="6" fill="#ff0000"/>
<rect x="744" y="70" width="3" height="3" fill="#ff0000"/>
<rect x="750" y="65" width="1" height="6" fill="#ff0000"/>
<rect x="749" y="71" width="3" height="3" fill="#ff0000"/>
<rect x="755" y="65" width="1" height="7" fill="#ff0000"/>
<rect x="754" y="72" width="3" height="2" fill="#ff0000"/>
<rect x="760" y="65" width="1" height="7" fill="#ff0000"/>
<rect x="759" y="72" width="3" height="2" fill="#ff0000"/>
<rect x="765" y="66" width="1" height="7" fill="#ff0000"/>
<rect x="764" y="73" width="3" height="2" fill="#ff0000"/>
<rect x="769" y="66" width="1" height="8" fill="#ff0000"/>
<rect x="768" y="74" width="3" height="2" fill="#ff0000"/>
<rect x="774" y="67" width="1" height="7" fill="#ff0000"/>
<rect x="773" y="74" width="3" height="2" fill="#ff0000"/>
<rect x="779" y="68" width="1" height="6" fill="#ff0000"/>
<rect x="778" y="74" width="3" height="2" fill="#ff0000"/>
<rect x="784" y="68" width="1" height="7" fill="#ff0000"/>
<rect x="783" y="75" width="3" height="2" fill="#ff0000"/>
<rect x="789" y="69" width="1" height="7" fill="#ff0000"/>
<rect x="788" y="76" width="3" height="2" fill="#ff0000"/>
<rect x="794" y="70" width="1" height="6" fill="#ff0000"/>
<rect x="793" y="76" width="3" height="2" fill="#ff0000"/>
<rect x="799" y="71" width="1" height="6" fill="#ff0000"/>
<rect x="798" y="77" width="3" height="2" fill="#ff0000"/>
<rect x="804" y="72" width="1" height="5" fill="#ff0000"/>
<rect x="803" y="77" width="3" height="3" fill="#ff0000"/>
<rect x="809" y="73" width="1" height="5" fill="#ff0000"/>
<rect x="808" y="78" width="3" height="3" fill="#ff0000"/>
<rect x="814" y="75" width="1" height="4" fill="#ff0000"/>
<rect x="813" y="79" width="3" height="3" fill="#ff0000"/>
<rect x="819" y="77" width="1" height="4" fill="#ff0000"/>
<rect x="818" y="81" width="3" height="3" fill="#ff0000"/>
<rect x="824" y="78" width="1" height="4" fill="#ff0000"/>
<rect x="823" y="82" width="3" height="3" fill="#ff0000"/>
<rect x="829" y="80" width="1" height="4" fill="#ff0000"/>
<rect x="828" y="84" width="3" height="3" fill="#ff0000"/>
<rect x="834" y="81" width="1" height="4" fill="#ff0000"/>
<rect x="833" y="85" width="3" height="3" fill="#ff0000"/>
<rect x="838" y="82" width="1" height="5" fill="#ff0000"/>
<rect x="837" y="87" width="3" height="3" fill="#ff0000"/>
<rect x="843" y="84" width="1" height="4" fill="#ff0000"/>
<rect x="842" y="88" width="3" height="3" fill="#ff0000"/>
<rect x="848" y="85" width="1" height="4" fill="#ff0000"/>
<rect x="847" y="89" width="3" height="3" fill="#ff0000"/>
<rect x="853" y="85" width="1" height="5" fill="#ff0000"/>
<rect x="852" y="90" width="3" height="2" fill="#ff0000"/>
<rect x="858" y="86" width="1" height="5" fill="#ff0000"/>
<rect x="857" y="91" width="3" height="2" fill="#ff0000"/>
<rect x="863" y="87" width="1" height="4" fill="#ff0000"/>
<rect x="862" y="91" width="3" height="3" fill="#ff0000"/>
<rect x="868" y="88" width="1" height="5" fill="#ff0000"/>
<rect x="867" y="93" width="3" height="3" fill="#ff0000"/>
<rect x="873" y="90" width="1" height="4" fill="#ff0000"/>
<rect x="872" y="94" width="3" height="4" fill="#ff0000"/>
<rect x="878" y="92" width="1" height="3" fill="#ff0000"/>
<rect x="877" y="95" width="3" height="4" fill="#ff0000"/>
<rect x="883" y="94" width="1" height="4" fill="#ff0000"/>
<rect x="882" y="98" width="3" height="4" fill="#ff0000"/>
<rect x="888" y="95" width="1" height="5" fill="#ff0000"/>
<rect x="887" y="100" width="3" height="3" fill="#ff0000"/>
<rect x="893" y="96" width="1" height="5" fill="#ff0000"/>
<rect x="892" y="101" width="3" height="3" fill="#ff0000"/>
<rect x="898" y="98" width="1" height="4" fill="#ff0000"/>
<rect x="897" y="102" width="3" height="2" fill="#ff0000"/>
<rect x="902" y="99" width="1" height="4" fill="#ff0000"/>
<rect x="901" y="103" width="3" height="2" fill="#ff0000"/>
<rect x="907" y="97" width="1" height="5" fill="#00ff00"/>
<rect x="906" y="102" width="3" height="2" fill="#00ff00"/>
<rect x="912" y="95" width="1" height="7" fill="#00ff00"/>
<rect x="911" y="102" width="3" height="2" fill="#00ff00"/>
<rect x="917" y="92" width="1" height="8" fill="#00ff00"/>
<rect x="916" y="100" width="3" height="3" fill="#00ff00"/>
<rect x="922" y="90" width="1" height="8" fill="#00ff00"/>
<rect x="921" y="98" width="3" height="3" fill="#00ff00"/>
<rect x="927" y="88" width="1" height="8" fill="#00ff00"/>
<rect x="926" y="96" width="3" height="4" fill="#00ff00"/>
<rect x="932" y="87" width="1" height="8" fill="#00ff00"/>
<rect x="931" y="95" width="3" height="3" fill="#00ff00"/>
</g>
<g clip-path="url(#cp2)" shape-rendering="geometricPrecision">
<rect x="-0.22" y="266" width="3.95" height="115" fill="#008000"/>
<rect x="4.70" y="266" width="3.95" height="115" fill="#008000"/>
<rect x="9.63" y="266" width="3.95" height="115" fill="#008000"/>
<rect x="14.55" y="266" width="3.95" height="115" fill="#008000"/>
<rect x="19.48" y="266" width="3.95" height="115" fill="#008000"/>
<rect x="24.40" y="266" width="3.95" height="115" fill="#008000"/>
<rect x="29.33" y="266" width="3.95" height="115" fill="#008000"/>
<rect x="34.25" y="266" width="3.95" height="115" fill="#008000"/>
<rect x="39.18" y="266" width="3.95" height="115" fill="#008000"/>
<rect x="44.10" y="266" width="3.95" height="115" fill="#ff0000"/>
<rect x="49.03" y="266" width="3.95" height="115" fill="#ff0000"/>
<rect x="53.95" y="266" width="3.95" height="115" fill="#ff0000"/>
<rect x="58.88" y="266" width="3.95" height="115" fill="#ff0000"/>
<rect x="63.80" y="266" width="3.95" height="115" fill="#ff0000"/>
<rect x="68.73" y="266" width="3.95" height="115" fill="#ff0000"/>
<rect x="73.65" y="266" width="3.95" height="115" fill="#ff0000"/>
<rect x="78.58" y="266" width="3.95" height="115" fill="#ff0000"/>
<rect x="83.50" y="266" width="3.95" height="115" fill="#ff0000"/>
<rect x="88.42" y="266" width="3.95" height="115" fill="#ff0000"/>
<rect x="93.35" y="266" width="3.95" height="115" fill="#ff0000"/>
<rect x="98.27" y="266" width="3.95" height="115" fill="#ff0000"/>
<rect x="103.20" y="266" width="3.95" height="115" fill="#008000"/>
<rect x="108.12" y="266" width="3.95" height="115" fill="#008000"/>
<rect x="113.05" y="266" width="3.95" height="115" fill="#008000"/>
<rect x="117.97" y="266" width="3.95" height="115" fill="#008000"/>
<rect x="122.90" y="266" width="3.95" height="115" fill="#ff0000"/>
<rect x="127.82" y="266" width="3.95" height="115" fill="#ff0000"/>
<rect x="132.75" y="266" width="3.95" height="115" fill="#ff0000"/>
<rect x="137.67" y="266" width="3.95" height="115" fill="#ff0000"/>
<rect x="142.60" y="266" width="3.95" height="115" fill="#ff0000"/>
<rect x="147.52" y="266" width="3.95" height="115" fill="#ff0000"/>
<rect x="152.45" y="266" width="3.95" height="115" fill="#ff0000"/>
<rect x="157.37" y="266" width="3.95" height="115" fill="#ff0000"/>
<rect x="162.30" y="266" width="3.95" height="115" fill="#ff0000"/>
<rect x="167.22" y="266" width="3.95" height="115" fill="#ff0000"/>
<rect x="172.14" y="266" width="3.95" height="115" fill="#008000"/>
<rect x="177.07" y="266" width="3.95" height="115" fill="#008000"/>
<rect x="181.99" y="266" width="3.95" height="115" fill="#008000"/>
<rect x="186.92" y="266" width="3.95" height="115" fill="#ff0000"/>
<rect x="191.84" y="266" width="3.95" height="115" fill="#ff0000"/>
<rect x="196.77" y="266" width="3.95" height="115" fill="#ff0000"/>
<rect x="201.69" y="266" width="3.95" height="115" fill="#ff0000"/>
<rect x="206.62" y="266" width="3.95" height="115" fill="#ff0000"/>
<rect x="211.54" y="266" width="3.95" height="115" fill="#ff0000"/>
<rect x="216.47" y="266" width="3.95" height="115" fill="#ff0000"/>
<rect x="221.39" y="266" width="3.95" height="115" fill="#ff0000"/>
<rect x="226.32" y="266" width="3.95" height="115" fill="#ff0000"/>
<rect x="231.24" y="266" width="3.95" height="115" fill="#ff0000"/>
<rect x="236.17" y="266" width="3.95" height="115" fill="#ff0000"/>
<rect x="241.09" y="266" width="3.95" height="115" fill="#ff0000"/>
<rect x="246.01" y="266" width="3.95" height="115" fill="#ff0000"/>
<rect x="250.94" y="266" width="3.95" height="115" fill="#ff0000"/>
<rect x="255.86" y="266" width="3.95" height="115" fill="#008000"/>
<rect x="260.79" y="266" width="3.95" height="115" fill="#008000"/>
<rect x="265.71" y="266" width="3.95" height="115" fill="#008000"/>
<rect x="270.64" y="266" width="3.95" height="115" fill="#008000"/>
<rect x="275.56" y="266" width="3.95" height="115" fill="#008000"/>
<rect x="280.49" y="266" width="3.95" height="115" fill="#008000"/>
<rect x="285.41" y="266" width="3.95" height="115" fill="#008000"/>
<rect x="290.34" y="266" width="3.95" height="115" fill="#008000"/>
<rect x="295.26" y="266" width="3.95" height="115" fill="#008000"/>
<rect x="300.19" y="266" width="3.95" height="115" fill="#008000"/>
<rect x="305.11" y="266" width="3.95" height="115" fill="#008000"/>
<rect x="310.04" y="266" width="3.95" height="115" fill="#008000"/>
<rect x="314.96" y="266" width="3.95" height="115" fill="#008000"/>
<rect x="319.89" y="266" width="3.95" height="115" fill="#008000"/>
<rect x="324.81" y="266" width="3.95" height="115" fill="#008000"/>
<rect x="329.73" y="266" width="3.95" height="115" fill="#008000"/>
<rect x="334.66" y="266" width="3.95" height="115" fill="#008000"/>
<rect x="339.58" y="266" width="3.95" height="115" fill="#008000"/>
<rect x="344.51" y="266" width="3.95" height="115" fill="#008000"/>
<rect x="349.43" y="266" width="3.95" height="115" fill="#008000"/>
<rect x="354.36" y="266" width="3.95" height="115" fill="#008000"/>
<rect x="359.28" y="266" width="3.95" height="115" fill="#008000"/>
<rect x="364.21" y="266" width="3.95" height="115" fill="#008000"/>
<rect x="369.13" y="266" width="3.95" height="115" fill="#008000"/>
<rect x="374.06" y="266" width="3.95" height="115" fill="#008000"/>
<rect x="378.98" y="266" width="3.95" height="115" fill="#008000"/>
<rect x="383.91" y="266" width="3.95" height="115" fill="#008000"/>
<rect x="388.83" y="266" width="3.95" height="115" fill="#008000"/>
<rect x="393.76" y="266" width="3.95" height="115" fill="#008000"/>
<rect x="398.68" y="266" width="3.95" height="115" fill="#008000"/>
<rect x="403.61" y="266" width="3.95" height="115" fill="#008000"/>
<rect x="408.53" y="266" width="3.95" height="115" fill="#008000"/>
<rect x="413.45" y="266" width="3.95" height="115" fill="#008000"/>
<rect x="418.38" y="266" width="3.95" height="115" fill="#008000"/>
<rect x="423.30" y="266" width="3.95" height="115" fill="#008000"/>
<rect x="428.23" y="266" width="3.95" height="115" fill="#008000"/>
<rect x="433.15" y="266" width="3.95" height="115" fill="#008000"/>
<rect x="438.08" y="266" width="3.95" height="115" fill="#008000"/>
<rect x="443.00" y="266" width="3.95" height="115" fill="#008000"/>
<rect x="447.93" y="266" width="3.95" height="115" fill="#008000"/>
<rect x="452.85" y="266" width="3.95" height="115" fill="#008000"/>
<rect x="457.78" y="266" width="3.95" height="115" fill="#008000"/>
<rect x="462.70" y="266" width="3.95" height="115" fill="#008000"/>
<rect x="467.63" y="266" width="3.95" height="115" fill="#008000"/>
<rect x="472.55" y="266" width="3.95" height="115" fill="#008000"/>
<rect x="477.48" y="266" width="3.95" height="115" fill="#008000"/>
<rect x="482.40" y="266" width="3.95" height="115" fill="#008000"/>
<rect x="487.33" y="266" width="3.95" height="115" fill="#008000"/>
<rect x="492.25" y="266" width="3.95" height="115" fill="#008000"/>
<rect x="497.17" y="266" width="3.95" height="115" fill="#008000"/>
<rect x="502.10" y="266" width="3.95" height="115" fill="#008000"/>
<rect x="507.02" y="266" width="3.95" height="115" fill="#008000"/>
<rect x="511.95" y="266" width="3.95" height="115" fill="#008000"/>
<rect x="516.87" y="266" width="3.95" height="115" fill="#008000"/>
<rect x="521.80" y="266" width="3.95" height="115" fill="#008000"/>
<rect x="526.72" y="266" width="3.95" height="115" fill="#008000"/>
<rect x="531.65" y="266" width="3.95" height="115" fill="#008000"/>
<rect x="536.57" y="266" width="3.95" height="115" fill="#008000"/>
<rect x="541.50" y="266" width="3.95" height="115" fill="#008000"/>
<rect x="546.42" y="266" width="3.95" height="115" fill="#008000"/>
<rect x="551.35" y="266" width="3.95" height="115" fill="#008000"/>
<rect x="556.27" y="266" width="3.95" height="115" fill="#008000"/>
<rect x="561.20" y="266" width="3.95" height="115" fill="#008000"/>
<rect x="566.12" y="266" width="3.95" height="115" fill="#008000"/>
<rect x="571.05" y="266" width="3.95" height="115" fill="#008000"/>
<rect x="575.97" y="266" width="3.95" height="115" fill="#008000"/>
<rect x="580.89" y="266" width="3.95" height="115" fill="#008000"/>
<rect x="585.82" y="266" width="3.95" height="115" fill="#008000"/>
<rect x="590.74" y="266" width="3.95" height="115" fill="#ff0000"/>
<rect x="595.67" y="266" width="3.95" height="115" fill="#ff0000"/>
<rect x="600.59" y="266" width="3.95" height="115" fill="#ff0000"/>
<rect x="605.52" y="266" width="3.95" height="115" fill="#ff0000"/>
<rect x="610.44" y="266" width="3.95" height="115" fill="#ff0000"/>
<rect x="615.37" y="266" width="3.95" height="115" fill="#ff0000"/>
<rect x="620.29" y="266" width="3.95" height="115" fill="#ff0000"/>
<rect x="625.22" y="266" width="3.95" height="115" fill="#ff0000"/>
<rect x="630.14" y="266" width="3.95" height="115" fill="#ff0000"/>
<rect x="635.07" y="266" width="3.95" height="115" fill="#ff0000"/>
<rect x="639.99" y="266" width="3.95" height="115" fill="#008000"/>
<rect x="644.92" y="266" width="3.95" height="115" fill="#008000"/>
<rect x="649.84" y="266" width="3.95" height="115" fill="#008000"/>
<rect x="654.77" y="266" width="3.95" height="115" fill="#008000"/>
<rect x="659.69" y="266" width="3.95" height="115" fill="#008000"/>
<rect x="664.61" y="266" width="3.95" height="115" fill="#ff0000"/>
<rect x="669.54" y="266" width="3.95" height="115" fill="#ff0000"/>
<rect x="674.46" y="266" width="3.95" height="115" fill="#ff0000"/>
<rect x="679.39" y="266" width="3.95" height="115" fill="#ff0000"/>
<rect x="684.31" y="266" width="3.95" height="115" fill="#ff0000"/>
<rect x="689.24" y="266" width="3.95" height="115" fill="#ff0000"/>
<rect x="694.16" y="266" width="3.95" height="115" fill="#ff0000"/>
<rect x="699.09" y="266" width="3.95" height="115" fill="#ff0000"/>
<rect x="704.01" y="266" width="3.95" height="115" fill="#ff0000"/>
<rect x="708.94" y="266" width="3.95" height="115" fill="#ff0000"/>
<rect x="713.86" y="266" width="3.95" height="115" fill="#ff0000"/>
<rect x="718.79" y="266" width="3.95" height="115" fill="#ff0000"/>
<rect x="723.71" y="266" width="3.95" height="115" fill="#ff0000"/>
<rect x="728.64" y="266" width="3.95" height="115" fill="#ff0000"/>
<rect x="733.56" y="266" width="3.95" height="115" fill="#ff0000"/>
<rect x="738.48" y="266" width="3.95" height="115" fill="#ff0000"/>
<rect x="743.41" y="266" width="3.95" height="115" fill="#ff0000"/>
<rect x="748.33" y="266" width="3.95" height="115" fill="#ff0000"/>
<rect x="753.26" y="266" width="3.95" height="115" fill="#ff0000"/>
<rect x="758.18" y="266" width="3.95" height="115" fill="#ff0000"/>
<rect x="763.11" y="266" width="3.95" height="115" fill="#ff0000"/>
<rect x="768.03" y="266" width="3.95" height="115" fill="#ff0000"/>
<rect x="772.96" y="266" width="3.95" height="115" fill="#ff0000"/>
<rect x="777.88" y="266" width="3.95" height="115" fill="#ff0000"/>
<rect x="782.81" y="266" width="3.95" height="115" fill="#ff0000"/>
<rect x="787.73" y="266" width="3.95" height="115" fill="#ff0000"/>
<rect x="792.66" y="266" width="3.95" height="115" fill="#ff0000"/>
<rect x="797.58" y="266" width="3.95" height="115" fill="#ff0000"/>
<rect x="802.51" y="266" width="3.95" height="115" fill="#ff0000"/>
<rect x="807.43" y="266" width="3.95" height="115" fill="#ff0000"/>
<rect x="812.36" y="266" width="3.95" height="115" fill="#ff0000"/>
<rect x="817.28" y="266" width="3.95" height="115" fill="#ff0000"/>
<rect x="822.20" y="266" width="3.95" height="115" fill="#ff0000"/>
<rect x="827.13" y="266" width="3.95" height="115" fill="#ff0000"/>
<rect x="832.05" y="266" width="3.95" height="115" fill="#ff0000"/>
<rect x="836.98" y="266" width="3.95" height="115" fill="#ff0000"/>
<rect x="841.90" y="266" width="3.95" height="115" fill="#ff0000"/>
<rect x="846.83" y="266" width="3.95" height="115" fill="#ff0000"/>
<rect x="851.75" y="266" width="3.95" height="115" fill="#ff0000"/>
<rect x="856.68" y="266" width="3.95" height="115" fill="#ff0000"/>
<rect x="861.60" y="266" width="3.95" height="115" fill="#ff0000"/>
<rect x="866.53" y="266" width="3.95" height="115" fill="#ff0000"/>
<rect x="871.45" y="266" width="3.95" height="115" fill="#ff0000"/>
<rect x="876.38" y="266" width="3.95" height="115" fill="#ff0000"/>
<rect x="881.30" y="266" width="3.95" height="115" fill="#ff0000"/>
<rect x="886.23" y="266" width="3.95" height="115" fill="#ff0000"/>
<rect x="891.15" y="266" width="3.95" height="115" fill="#ff0000"/>
<rect x="896.08" y="266" width="3.95" height="115" fill="#ff0000"/>
<rect x="901.00" y="266" width="3.95" height="115" fill="#ff0000"/>
<rect x="905.92" y="266" width="3.95" height="115" fill="#008000"/>
<rect x="910.85" y="266" width="3.95" height="115" fill="#008000"/>
<rect x="915.77" y="266" width="3.95" height="115" fill="#008000"/>
<rect x="920.70" y="266" width="3.95" height="115" fill="#008000"/>
<rect x="925.62" y="266" width="3.95" height="115" fill="#008000"/>
<rect x="930.55" y="266" width="3.95" height="115" fill="#008000"/>
</g>
<line x1="2" y1="427.5" x2="935" y2="427.5" stroke="#808080" stroke-width="1" stroke-dasharray="1 2"/>
<line x1="2" y1="446.5" x2="935" y2="446.5" stroke="#707070" stroke-width="1" stroke-dasharray="2 2"/>
<line x1="2" y1="452.5" x2="935" y2="452.5" stroke="#c0c0b0" stroke-width="1" stroke-dasharray="2 2"/>
<line x1="2" y1="458.5" x2="935" y2="458.5" stroke="#d0d0d0" stroke-width="1" stroke-dasharray="2 2"/>
<line x1="2" y1="477.5" x2="935" y2="477.5" stroke="#d0d0d0" stroke-width="1" stroke-dasharray="2 2"/>
<g clip-path="url(#cr)"><polyline points="2.5,437.3 11.0,437.3 16.0,435.1 22.1,445.4 27.0,445.4 31.9,451.6 40.5,457.7 46.7,456.0 54.0,457.7 60.9,462.1 66.3,454.0 71.2,452.8 78.6,452.8 84.7,451.1 90.9,449.1 95.8,449.9 100.7,439.3 105.6,446.2 111.8,449.1 117.9,454.5 124.0,460.9 129.0,461.4 133.9,453.5 140.0,450.4 148.6,454.5 157.2,451.6 169.5,449.6 176.9,451.1 183.0,455.3 187.9,452.1 192.8,460.2 197.7,464.4 203.9,457.7 211.2,459.0 218.1,462.6 223.5,452.1 227.4,450.8 233.5,457.0 242.1,455.3 247.0,452.8 254.4,444.2 264.2,438.1 271.6,434.9 281.4,429.0 287.6,423.3 292.5,420.1 298.1,426.5 306.0,424.1 314.6,430.7 323.2,436.1 330.5,436.1 337.4,430.7 345.3,433.2 355.1,436.4 360.5,433.2 366.9,439.3 373.5,436.4 377.2,436.8 380.9,441.8 389.5,429.5 398.1,435.6 401.8,436.4 415.3,423.3 421.4,428.2 428.8,427.0 435.7,430.0 443.5,428.2 450.9,430.0 454.9,430.0 461.1,427.0 469.7,424.6 479.5,430.7 484.4,425.3 489.3,425.3 494.2,434.4 501.6,431.4 509.0,433.2 521.2,430.7 533.5,424.6 538.4,424.6 543.3,431.9 558.1,431.4 563.0,445.4 566.7,447.2 572.8,443.7 579.0,447.2 587.6,459.7 592.5,460.2 602.3,450.4 607.2,458.2 612.1,455.3 617.5,441.8 623.2,451.6 626.9,452.1 636.7,446.2 641.6,449.6 646.5,447.2 653.9,451.6 663.7,453.5 671.1,454.5 679.7,459.7 688.0,460.7 694.6,457.2 700.0,460.7 705.3,452.7 714.6,458.5 719.9,464.4 726.6,464.4 735.9,450.6 739.9,451.4 746.5,455.3 751.8,455.3 759.8,452.7 767.8,455.9 773.1,458.0 778.5,458.0 786.4,454.0 790.4,455.9 797.1,460.7 805.1,463.3 813.0,467.1 818.4,462.5 826.4,463.3 834.3,459.1 839.7,461.7 847.6,457.2 853.0,458.0 868.9,474.5 874.3,469.7 878.2,461.2 887.6,456.4 892.9,452.7 899.5,447.9 903.5,440.4 908.3,442.6 912.8,439.4 919.5,443.9 926.1,447.4 932.3,445.8" fill="none" stroke="#1a78d8" stroke-width="1"/></g>
<rect x="1" y="1" width="935" height="1" fill="#ffffff"/>
<rect x="1" y="1" width="1" height="257" fill="#ffffff"/>
<rect x="1" y="257" width="935" height="1" fill="#8a8a8a"/>
<rect x="1" y="259" width="935" height="1" fill="#b8b8b8"/>
<rect x="1" y="259" width="1" height="128" fill="#ffffff"/>
<rect x="2" y="386" width="934" height="1" fill="#2a2a2a"/>
<rect x="1" y="388" width="935" height="1" fill="#c8c8c8"/>
<rect x="1" y="388" width="1" height="128" fill="#ffffff"/>
<rect x="1" y="515" width="935" height="1" fill="#ffffff"/>
<rect x="935" y="2" width="1" height="256" fill="#707070"/>
<rect x="935" y="260" width="1" height="127" fill="#707070"/>
<rect x="935" y="389" width="1" height="127" fill="#707070"/>
<rect x="975" y="0" width="2" height="531" fill="#557d55"/>
<rect x="0" y="530" width="977" height="1" fill="#557d55"/>
<rect x="936" y="5" width="2" height="1" fill="#707070"/>
<text transform="translate(940,8) scale(0.928,1)" font-family="Liberation Sans, sans-serif" font-size="8.3" fill="#ffffff" stroke="#ffffff" stroke-width="0.1" text-anchor="start" >1.65995</text>
<rect x="936" y="35" width="2" height="1" fill="#707070"/>
<text transform="translate(940,38) scale(0.928,1)" font-family="Liberation Sans, sans-serif" font-size="8.3" fill="#ffffff" stroke="#ffffff" stroke-width="0.1" text-anchor="start" >1.65745</text>
<rect x="936" y="65" width="2" height="1" fill="#707070"/>
<text transform="translate(940,68) scale(0.928,1)" font-family="Liberation Sans, sans-serif" font-size="8.3" fill="#ffffff" stroke="#ffffff" stroke-width="0.1" text-anchor="start" >1.65490</text>
<rect x="936" y="95" width="2" height="1" fill="#707070"/>
<text transform="translate(940,98) scale(0.928,1)" font-family="Liberation Sans, sans-serif" font-size="8.3" fill="#ffffff" stroke="#ffffff" stroke-width="0.1" text-anchor="start" >1.65240</text>
<rect x="936" y="126" width="2" height="1" fill="#707070"/>
<text transform="translate(940,129) scale(0.928,1)" font-family="Liberation Sans, sans-serif" font-size="8.3" fill="#ffffff" stroke="#ffffff" stroke-width="0.1" text-anchor="start" >1.64985</text>
<rect x="936" y="156" width="2" height="1" fill="#707070"/>
<text transform="translate(940,159) scale(0.928,1)" font-family="Liberation Sans, sans-serif" font-size="8.3" fill="#ffffff" stroke="#ffffff" stroke-width="0.1" text-anchor="start" >1.64735</text>
<rect x="936" y="186" width="2" height="1" fill="#707070"/>
<text transform="translate(940,189) scale(0.928,1)" font-family="Liberation Sans, sans-serif" font-size="8.3" fill="#ffffff" stroke="#ffffff" stroke-width="0.1" text-anchor="start" >1.64480</text>
<rect x="936" y="216" width="2" height="1" fill="#707070"/>
<text transform="translate(940,219) scale(0.928,1)" font-family="Liberation Sans, sans-serif" font-size="8.3" fill="#ffffff" stroke="#ffffff" stroke-width="0.1" text-anchor="start" >1.64230</text>
<rect x="936" y="246" width="2" height="1" fill="#707070"/>
<text transform="translate(940,249) scale(0.928,1)" font-family="Liberation Sans, sans-serif" font-size="8.3" fill="#ffffff" stroke="#ffffff" stroke-width="0.1" text-anchor="start" >1.63975</text>
<rect x="937" y="172" width="34" height="8" fill="#ffffff"/>
<text transform="translate(940,179) scale(0.928,1)" font-family="Liberation Sans, sans-serif" font-size="8.3" fill="#000000" stroke="#000000" stroke-width="0.1" text-anchor="start" >1.64565</text>
<rect x="936" y="260" width="2" height="1" fill="#707070"/>
<text transform="translate(940,268) scale(0.928,1)" font-family="Liberation Sans, sans-serif" font-size="8.3" fill="#ffffff" stroke="#ffffff" stroke-width="0.1" text-anchor="start" >1.05</text>
<rect x="936" y="381" width="2" height="1" fill="#707070"/>
<text transform="translate(940.5,385) scale(0.928,1)" font-family="Liberation Sans, sans-serif" font-size="8.3" fill="#ffffff" stroke="#ffffff" stroke-width="0.1" text-anchor="start" >0.05</text>
<text transform="translate(938.5,385) scale(0.928,1)" font-family="Liberation Sans, sans-serif" font-size="8.3" fill="#ffffff" stroke="#ffffff" stroke-width="0.1" text-anchor="start" >0</text>
<rect x="936" y="389" width="2" height="1" fill="#808080"/>
<text transform="translate(940,397) scale(0.928,1)" font-family="Liberation Sans, sans-serif" font-size="8.3" fill="#ffffff" stroke="#ffffff" stroke-width="0.1" text-anchor="start" >100</text>
<rect x="936" y="427" width="2" height="1" fill="#808080"/>
<text transform="translate(940,430) scale(0.928,1)" font-family="Liberation Sans, sans-serif" font-size="8.3" fill="#ffffff" stroke="#ffffff" stroke-width="0.1" text-anchor="start" >70</text>
<rect x="936" y="446" width="2" height="1" fill="#808080"/>
<text transform="translate(940,449) scale(0.928,1)" font-family="Liberation Sans, sans-serif" font-size="8.3" fill="#ffffff" stroke="#ffffff" stroke-width="0.1" text-anchor="start" >55</text>
<rect x="936" y="452" width="2" height="1" fill="#808080"/>
<text transform="translate(940,455) scale(0.928,1)" font-family="Liberation Sans, sans-serif" font-size="8.3" fill="#ffffff" stroke="#ffffff" stroke-width="0.1" text-anchor="start" >50</text>
<rect x="936" y="458" width="2" height="1" fill="#808080"/>
<text transform="translate(940,461) scale(0.928,1)" font-family="Liberation Sans, sans-serif" font-size="8.3" fill="#ffffff" stroke="#ffffff" stroke-width="0.1" text-anchor="start" >45</text>
<rect x="936" y="477" width="2" height="1" fill="#808080"/>
<text transform="translate(940,480) scale(0.928,1)" font-family="Liberation Sans, sans-serif" font-size="8.3" fill="#ffffff" stroke="#ffffff" stroke-width="0.1" text-anchor="start" >30</text>
<rect x="936" y="514" width="2" height="1" fill="#808080"/>
<text transform="translate(940,514) scale(0.928,1)" font-family="Liberation Sans, sans-serif" font-size="8.3" fill="#ffffff" stroke="#ffffff" stroke-width="0.1" text-anchor="start" >0</text>
<rect x="2" y="516" width="1" height="3" fill="#707070"/>
<text transform="translate(2,525) scale(0.928,1)" font-family="Liberation Sans, sans-serif" font-size="8.3" fill="#ffffff" stroke="#ffffff" stroke-width="0.1" text-anchor="start" >30 Jan 2020</text>
<rect x="61" y="516" width="1" height="3" fill="#707070"/>
<text transform="translate(61,525) scale(0.928,1)" font-family="Liberation Sans, sans-serif" font-size="8.3" fill="#ffffff" stroke="#ffffff" stroke-width="0.1" text-anchor="start" >30 Jan 23:45</text>
<rect x="120" y="516" width="1" height="3" fill="#707070"/>
<text transform="translate(120,525) scale(0.928,1)" font-family="Liberation Sans, sans-serif" font-size="8.3" fill="#ffffff" stroke="#ffffff" stroke-width="0.1" text-anchor="start" >31 Jan 02:45</text>
<rect x="179" y="516" width="1" height="3" fill="#707070"/>
<text transform="translate(179,525) scale(0.928,1)" font-family="Liberation Sans, sans-serif" font-size="8.3" fill="#ffffff" stroke="#ffffff" stroke-width="0.1" text-anchor="start" >31 Jan 05:45</text>
<rect x="238" y="516" width="1" height="3" fill="#707070"/>
<text transform="translate(238,525) scale(0.928,1)" font-family="Liberation Sans, sans-serif" font-size="8.3" fill="#ffffff" stroke="#ffffff" stroke-width="0.1" text-anchor="start" >31 Jan 08:45</text>
<rect x="297" y="516" width="1" height="3" fill="#707070"/>
<text transform="translate(297,525) scale(0.928,1)" font-family="Liberation Sans, sans-serif" font-size="8.3" fill="#ffffff" stroke="#ffffff" stroke-width="0.1" text-anchor="start" >31 Jan 11:45</text>
<rect x="356" y="516" width="1" height="3" fill="#707070"/>
<text transform="translate(356,525) scale(0.928,1)" font-family="Liberation Sans, sans-serif" font-size="8.3" fill="#ffffff" stroke="#ffffff" stroke-width="0.1" text-anchor="start" >31 Jan 14:45</text>
<rect x="415" y="516" width="1" height="3" fill="#707070"/>
<text transform="translate(415,525) scale(0.928,1)" font-family="Liberation Sans, sans-serif" font-size="8.3" fill="#ffffff" stroke="#ffffff" stroke-width="0.1" text-anchor="start" >31 Jan 17:45</text>
<rect x="474" y="516" width="1" height="3" fill="#707070"/>
<text transform="translate(474,525) scale(0.928,1)" font-family="Liberation Sans, sans-serif" font-size="8.3" fill="#ffffff" stroke="#ffffff" stroke-width="0.1" text-anchor="start" >31 Jan 20:45</text>
<rect x="533" y="516" width="1" height="3" fill="#707070"/>
<text transform="translate(533,525) scale(0.928,1)" font-family="Liberation Sans, sans-serif" font-size="8.3" fill="#ffffff" stroke="#ffffff" stroke-width="0.1" text-anchor="start" >31 Jan 23:45</text>
<rect x="592" y="516" width="1" height="3" fill="#707070"/>
<text transform="translate(592,525) scale(0.928,1)" font-family="Liberation Sans, sans-serif" font-size="8.3" fill="#ffffff" stroke="#ffffff" stroke-width="0.1" text-anchor="start" >3 Feb 02:45</text>
<rect x="652" y="516" width="1" height="3" fill="#707070"/>
<text transform="translate(652,525) scale(0.928,1)" font-family="Liberation Sans, sans-serif" font-size="8.3" fill="#ffffff" stroke="#ffffff" stroke-width="0.1" text-anchor="start" >3 Feb 05:45</text>
<rect x="711" y="516" width="1" height="3" fill="#707070"/>
<text transform="translate(711,525) scale(0.928,1)" font-family="Liberation Sans, sans-serif" font-size="8.3" fill="#ffffff" stroke="#ffffff" stroke-width="0.1" text-anchor="start" >3 Feb 08:45</text>
<rect x="770" y="516" width="1" height="3" fill="#707070"/>
<text transform="translate(770,525) scale(0.928,1)" font-family="Liberation Sans, sans-serif" font-size="8.3" fill="#ffffff" stroke="#ffffff" stroke-width="0.1" text-anchor="start" >3 Feb 11:45</text>
<rect x="829" y="516" width="1" height="3" fill="#707070"/>
<text transform="translate(829,525) scale(0.928,1)" font-family="Liberation Sans, sans-serif" font-size="8.3" fill="#ffffff" stroke="#ffffff" stroke-width="0.1" text-anchor="start" >3 Feb 14:45</text>
<rect x="888" y="516" width="1" height="3" fill="#707070"/>
<text transform="translate(888,525) scale(0.928,1)" font-family="Liberation Sans, sans-serif" font-size="8.3" fill="#ffffff" stroke="#ffffff" stroke-width="0.1" text-anchor="start" >3 Feb 17:45</text>
<path d="M4,6 L9.5,6 L6.75,9 Z" fill="#ffffff"/>
<text transform="translate(12.5,11) scale(0.928,1)" font-family="Liberation Sans, sans-serif" font-size="8.3" fill="#ffffff" stroke="#ffffff" stroke-width="0.1" text-anchor="start" >EURAUD#,M15&#160;&#160;1.64543 1.64567 1.64543 1.64565</text>
<text transform="translate(4.5,268.5) scale(0.928,1)" font-family="Liberation Sans, sans-serif" font-size="8.3" fill="#ffffff" stroke="#ffffff" stroke-width="0.1" text-anchor="start" >Octopus 1() 0.0000 1.0000</text>
<text transform="translate(4.5,397.5) scale(0.928,1)" font-family="Liberation Sans, sans-serif" font-size="8.3" fill="#ffffff" stroke="#ffffff" stroke-width="0.1" text-anchor="start" >RSI(19) 39.0302</text>
<text x="209.5" y="205.5" font-family="Liberation Sans, sans-serif" font-size="12" fill="#f2e600" text-anchor="start" >Entry</text>
<rect x="248" y="201" width="20" height="2" fill="#f2e600"/>
<text x="270.5" y="244" font-family="Liberation Sans, sans-serif" font-size="12" fill="#ff4a10" text-anchor="start" >Stop Loss</text>
<rect x="247" y="240" width="21" height="2" fill="#ff4a10"/>
<text x="558.5" y="80.5" font-family="Liberation Sans, sans-serif" font-size="12" fill="#3ccc3c" text-anchor="start" >Exit</text>
<rect x="582" y="77" width="21" height="2" fill="#3ccc3c"/>
<text x="229.3" y="475" font-family="Liberation Sans, sans-serif" font-size="12" fill="#f2e600" text-anchor="start" >Bullish RSI</text>
<path d="M258,229.5 L261,232.5 L259.5,232.5 L259.5,235.5 L256.5,235.5 L256.5,232.5 L255,232.5 Z" fill="none" stroke="#dca818" stroke-width="1" shape-rendering="geometricPrecision"/>
<path d="M258,450.5 L261,453.5 L259.5,453.5 L259.5,456.5 L256.5,456.5 L256.5,453.5 L255,453.5 Z" fill="none" stroke="#dca818" stroke-width="1" shape-rendering="geometricPrecision"/>
<path d="M588.5,62.5 L590.5,65.5 L596,60" fill="none" stroke="#e8c020" stroke-width="1.2"/>
</svg>
</body></html>
